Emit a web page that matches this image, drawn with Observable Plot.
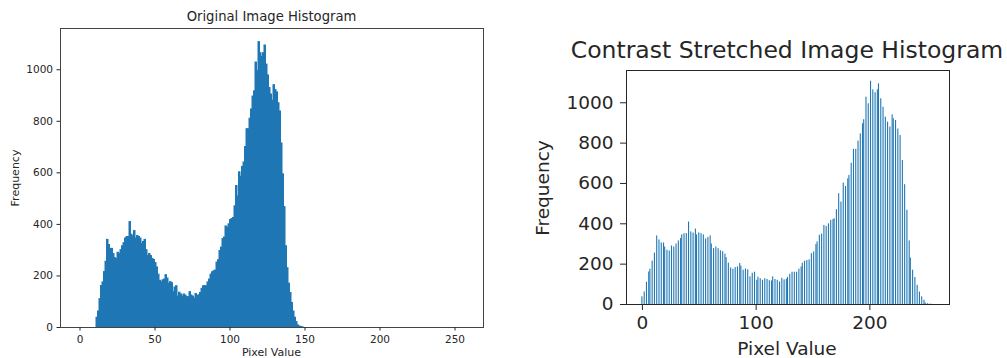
<!DOCTYPE html>
<html><head><meta charset="utf-8">
<script src="https://cdn.jsdelivr.net/npm/d3@7"></script>
<script src="https://cdn.jsdelivr.net/npm/@observablehq/plot@0.6"></script>
<style>
html,body{margin:0;padding:0;background:#fff;}
#wrap{position:relative;width:1007px;height:358px;overflow:hidden;font-family:"DejaVu Sans",sans-serif;color:#262626;background:#fff;}
.lbl{position:absolute;white-space:nowrap;line-height:1;transform:translate(-50%,-50%);}
.rot{transform:translate(-50%,-50%) rotate(-90deg);}
.panel{position:absolute;top:0;}
</style></head><body><div id="wrap"></div>
<script>
// original pixel values (one histogram bin each)
const pixelValues = [11,12,13,14,15,16,17,18,19,20,21,22,23,24,25,26,27,28,29,30,
31,32,33,34,35,36,37,38,39,40,41,42,43,44,45,46,47,48,49,50,
51,52,53,54,55,56,57,58,59,60,61,62,63,64,65,66,67,68,69,70,
71,72,73,74,75,76,77,78,79,80,81,82,83,84,85,86,87,88,89,90,
91,92,93,94,95,96,97,98,99,100,101,102,103,104,105,106,107,108,109,110,
111,112,113,114,115,116,117,118,119,120,121,122,123,124,125,126,127,128,129,130,
131,132,133,134,135,136,137,138,139,140,141,142,143,144,145,146,147,148];
// frequency of each pixel value
const frequencies = [38,62,110,161,175,215,255,340,320,305,
305,285,269,265,290,285,300,315,327,345,
351,351,409,360,354,374,345,355,351,345,
325,332,340,300,277,285,277,266,262,250,
233,205,181,175,183,186,203,190,170,176,
172,137,155,160,120,135,128,120,128,124,
118,117,137,124,120,112,130,122,125,134,
150,160,160,160,175,186,205,214,218,221,
252,261,297,310,343,349,392,387,400,417,
421,425,470,549,508,602,585,623,640,700,
769,769,810,846,896,916,1028,995,1107,1064,
1050,1064,1094,1020,978,929,904,880,940,921,
912,870,838,714,594,467,315,230,170,134,
95,62,38,21,8,4,2,1];
// pixel value each original value lands on after contrast stretching
const stretchedValues = [0,2,4,6,7,9,11,13,15,17,
19,20,22,24,26,28,30,32,34,35,
37,39,41,43,45,47,48,50,52,54,
56,58,60,61,63,65,67,69,71,73,
74,76,78,80,82,84,86,87,89,91,
93,95,97,99,101,102,104,106,108,110,
112,114,115,117,119,121,123,125,127,128,
130,132,134,136,138,140,141,143,145,147,
149,151,153,154,156,158,160,162,164,166,
168,169,171,173,175,177,179,181,182,184,
186,188,190,192,194,195,197,199,201,203,
205,207,208,210,212,214,216,218,220,221,
223,225,227,229,231,233,235,236,238,240,
242,244,246,248,249,251,253,255];

const leftXTicks = [0,50,100,150,200,250];
const rightXTicks = [0,100,200];
const yTicks = [0,200,400,600,800,1000];
const titles = ["Original Image Histogram","Contrast Stretched Image Histogram"];
const xLabel = "Pixel Value";
const yLabel = "Frequency";

const blue = "#1f77b4";
const origRows = pixelValues.map((v,i)=>({v, c: frequencies[i]}));
const stretchRows = stretchedValues.map((s,i)=>({s, c: frequencies[i]}));
const fmt = d => String(d);

const left = Plot.plot({
  width: 500, height: 380,
  marginLeft: 60, marginRight: 17, marginTop: 28, marginBottom: 53,
  style: {fontFamily: "DejaVu Sans", fontSize: "10.5px", color: "#262626", background: "transparent"},
  x: {domain: [-13, 269]},
  y: {domain: [0, 1160]},
  marks: [
    Plot.rectY(origRows, {x: "v", interval: 1, y: "c", inset: 0, insetLeft: 0, insetRight: 0, fill: blue, stroke: blue, strokeWidth: 1}),
    Plot.frame({stroke: "#444"}),
    Plot.axisX({ticks: leftXTicks, tickFormat: fmt, tickSize: 3.5, tickPadding: 4.5, label: null, fontSize: 10.5}),
    Plot.axisY({ticks: yTicks, tickFormat: fmt, tickSize: 3.5, tickPadding: 4, label: null, fontSize: 10.5})
  ]
});

const right = Plot.plot({
  width: 507, height: 380,
  marginLeft: 126, marginRight: 58, marginTop: 70, marginBottom: 76,
  style: {fontFamily: "DejaVu Sans", fontSize: "18.5px", color: "#262626", background: "transparent"},
  x: {domain: [-14, 270]},
  y: {domain: [0, 1160]},
  marks: [
    Plot.rectY(stretchRows, {x1: d => d.s - 0.48, x2: d => d.s + 0.48, y: "c", inset: 0, fill: blue}),
    Plot.frame({stroke: "#262626"}),
    Plot.axisX({ticks: rightXTicks, tickFormat: fmt, tickSize: 6, tickPadding: 5, label: null, fontSize: 18.5}),
    Plot.axisY({ticks: yTicks, tickFormat: fmt, tickSize: 6, tickPadding: 7, label: null, fontSize: 18.5})
  ]
});

const wrap = document.getElementById("wrap");
const lp = document.createElement("div"); lp.className = "panel"; lp.style.left = "0px"; lp.appendChild(left);
const rp = document.createElement("div"); rp.className = "panel"; rp.style.left = "500px"; rp.appendChild(right);
wrap.appendChild(lp); wrap.appendChild(rp);

function label(text, cx, cy, size, rotate) {
  const d = document.createElement("div");
  d.className = "lbl" + (rotate ? " rot" : "");
  d.textContent = text;
  d.style.left = cx + "px"; d.style.top = cy + "px"; d.style.fontSize = size + "px";
  wrap.appendChild(d);
}
label(titles[0], 271.5, 16.9, 13.2, false);
label(titles[1], 787, 51.2, 23.5, false);
label(yLabel, 14.5, 178, 11, true);
label(yLabel, 543, 188, 18.5, true);
label(xLabel, 271.5, 351.5, 11, false);
label(xLabel, 787, 348.5, 18.5, false);
</script>
</body></html>
